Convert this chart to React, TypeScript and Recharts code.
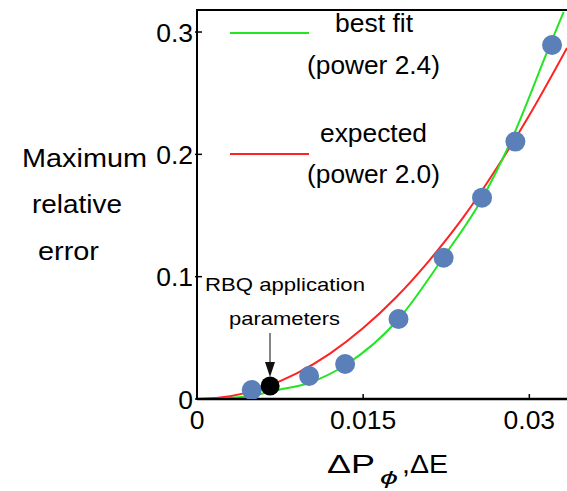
import { ComposedChart, Customized, Line, Scatter, XAxis, YAxis } from 'recharts';

const FONT = '"Liberation Sans", Arial, Helvetica, sans-serif';

// measured runs (max relative error vs step size)
const measured = [
  { x: 0.00494, y: 0.0074 },
  { x: 0.01012, y: 0.0188 },
  { x: 0.01337, y: 0.0286 },
  { x: 0.01819, y: 0.0654 },
  { x: 0.02226, y: 0.1155 },
  { x: 0.02573, y: 0.1646 },
  { x: 0.02874, y: 0.2104 },
  { x: 0.03205, y: 0.2894 },
];

const rbqPoint = [{ x: 0.0066, y: 0.0106 }];

// best fit curve
const bestFit = [
  { x: 0, y: 0 },
  { x: 0.0025, y: 0.0006 },
  { x: 0.0048, y: 0.0025 },
  { x: 0.0073, y: 0.0074 },
  { x: 0.0101, y: 0.0131 },
  { x: 0.0134, y: 0.0278 },
  { x: 0.0182, y: 0.0654 },
  { x: 0.0222, y: 0.1153 },
  { x: 0.0258, y: 0.1648 },
  { x: 0.0283, y: 0.2101 },
  { x: 0.0319, y: 0.2903 },
  { x: 0.0331, y: 0.3164 },
];

// expected curve
const expected = [
  { x: 0, y: 0 },
  { x: 0.003, y: 0.0023 },
  { x: 0.006, y: 0.0093 },
  { x: 0.009, y: 0.0209 },
  { x: 0.012, y: 0.0371 },
  { x: 0.015, y: 0.058 },
  { x: 0.018, y: 0.0834 },
  { x: 0.021, y: 0.1136 },
  { x: 0.024, y: 0.148 },
  { x: 0.027, y: 0.188 },
  { x: 0.03, y: 0.232 },
  { x: 0.0334, y: 0.287 },
];

const xTicks = [0, 0.015, 0.03];
const yTicks = [0, 0.1, 0.2, 0.3];

const YTick = (props: any) => {
  const { x, y, payload } = props;
  return (
    <g>
      <line x1={x - 2} x2={x + 5} y1={y} y2={y} stroke="#000" strokeWidth={1.5} />
      <text x={x - 4} y={y} dy="0.36em" textAnchor="end" fontSize={26.5} fontFamily={FONT} fill="#000">
        {String(payload.value)}
      </text>
    </g>
  );
};

const XTick = (props: any) => {
  const { x, y, payload } = props;
  return (
    <g>
      <line x1={x} x2={x} y1={y + 1} y2={y - 5} stroke="#000" strokeWidth={1.5} />
      <text x={x} y={y + 30} textAnchor="middle" fontSize={26.5} fontFamily={FONT} fill="#000">
        {String(payload.value)}
      </text>
    </g>
  );
};

const Dot = (color: string, r: number) => (props: any) => (
  <circle cx={props.cx} cy={props.cy} r={r} fill={color} />
);

function Overlay() {
  const t = { fontFamily: FONT, fill: '#000' };
  return (
    <g>
      {/* top frame */}
      <line x1={196} x2={567} y1={10} y2={10} stroke="#000" strokeWidth={2} />

      {/* y axis title */}
      <text {...t} x={22} y={167} fontSize={26} textLength={125} lengthAdjust="spacingAndGlyphs">Maximum</text>
      <text {...t} x={32} y={213} fontSize={26} textLength={90} lengthAdjust="spacingAndGlyphs">relative</text>
      <text {...t} x={38} y={260} fontSize={26} textLength={61} lengthAdjust="spacingAndGlyphs">error</text>

      {/* x axis title */}
      <text {...t} x={327} y={473} fontSize={25} textLength={48} lengthAdjust="spacingAndGlyphs">ΔP</text>
      <text {...t} x={380} y={484} fontSize={19} fontStyle="italic" textLength={18} lengthAdjust="spacingAndGlyphs">ϕ</text>
      <text {...t} x={402} y={473} fontSize={25} textLength={46} lengthAdjust="spacingAndGlyphs">,ΔE</text>

      {/* legend */}
      <line x1={230} x2={309} y1={33} y2={33} stroke="#22e622" strokeWidth={2} />
      <text {...t} x={335} y={32} fontSize={25} textLength={78} lengthAdjust="spacingAndGlyphs">best fit</text>
      <text {...t} x={307} y={74} fontSize={25} textLength={133} lengthAdjust="spacingAndGlyphs">(power 2.4)</text>
      <line x1={230} x2={309} y1={154} y2={154} stroke="#ff2222" strokeWidth={2} />
      <text {...t} x={320} y={142} fontSize={25} textLength={107} lengthAdjust="spacingAndGlyphs">expected</text>
      <text {...t} x={307} y={183} fontSize={25} textLength={133} lengthAdjust="spacingAndGlyphs">(power 2.0)</text>

      {/* annotation */}
      <text {...t} x={205} y={291} fontSize={19} textLength={160} lengthAdjust="spacingAndGlyphs">RBQ application</text>
      <text {...t} x={229} y={325} fontSize={19} textLength={111} lengthAdjust="spacingAndGlyphs">parameters</text>
      <line x1={270} x2={270} y1={333} y2={366} stroke="#333" strokeWidth={1.2} />
      <polygon points="265,362 275,362 270,377" fill="#111" />
    </g>
  );
}

export default function App() {
  return (
    <div style={{ position: 'absolute', left: 0, top: 0, width: 567, height: 491, background: '#fff' }}>
      <ComposedChart width={567} height={491} margin={{ top: 10, right: 0, bottom: 0, left: 0 }}>
        <XAxis
          type="number"
          dataKey="x"
          domain={[0, 0.0334]}
          ticks={xTicks}
          allowDataOverflow
          height={92}
          axisLine={{ stroke: '#000', strokeWidth: 2.5 }}
          tickLine={false}
          tickSize={0}
          tickMargin={0}
          tick={<XTick />}
        />
        <YAxis
          type="number"
          dataKey="y"
          domain={[0, 0.318]}
          ticks={yTicks}
          allowDataOverflow
          width={197}
          axisLine={{ stroke: '#000', strokeWidth: 2 }}
          tickLine={false}
          tickSize={0}
          tickMargin={0}
          tick={<YTick />}
        />
        <Scatter data={measured} fill="#5b7fb8" shape={Dot('#5b7fb8', 10)} isAnimationActive={false} />
        <Line data={expected} dataKey="y" type="monotone" stroke="#ff2222" strokeWidth={2} dot={false} activeDot={false} isAnimationActive={false} />
        <Line data={bestFit} dataKey="y" type="monotone" stroke="#22e622" strokeWidth={2} dot={false} activeDot={false} isAnimationActive={false} />
        <Scatter data={rbqPoint} fill="#000" shape={Dot('#000', 9.5)} isAnimationActive={false} />
        <Customized component={Overlay} />
      </ComposedChart>
    </div>
  );
}
